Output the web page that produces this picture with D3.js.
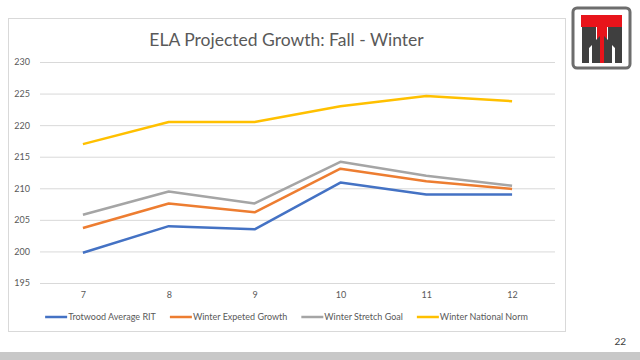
<!DOCTYPE html>
<html>
<head>
<meta charset="utf-8">
<script src="https://cdn.jsdelivr.net/npm/d3@7"></script>
<style>
  body { margin: 0; background: #fff; }
  svg { display: block; font-family: Lato, "Open Sans", sans-serif; }
</style>
</head>
<body>
<svg width="640" height="360"></svg>
<script>
// grade levels on the x axis
const grades = [7, 8, 9, 10, 11, 12];

// series values
const trotwoodAverage = [199.8, 204.0, 203.5, 210.9, 209.0, 209.0];
const winterExpected = [203.7, 207.6, 206.2, 213.1, 211.1, 209.9];
const winterStretch = [205.8, 209.5, 207.6, 214.2, 212.0, 210.4];
const winterNational = [217.0, 220.5, 220.5, 223.0, 224.6, 223.8];

const yTicks = [195, 200, 205, 210, 215, 220, 225, 230];

const seriesNames = ["Trotwood Average RIT", "Winter Expeted Growth", "Winter Stretch Goal", "Winter National Norm"];
const seriesColors = ["#4472C4", "#ED7D31", "#A5A5A5", "#FFC000"];

const series = [trotwoodAverage, winterExpected, winterStretch, winterNational].map((vals, i) => ({
    name: seriesNames[i],
    color: seriesColors[i],
    values: vals.map((v, j) => ({ grade: grades[j], value: v }))
}));

const svg = d3.select("svg");

// chart frame
const box = { left: 8, top: 18, right: 565, bottom: 331 };
svg.append("rect")
    .attr("x", box.left + 0.5)
    .attr("y", box.top + 0.5)
    .attr("width", box.right - box.left)
    .attr("height", box.bottom - box.top)
    .attr("fill", "#fff")
    .attr("stroke", "#d9d9d9");

// title
svg.append("text")
    .attr("x", (box.left + box.right) / 2)
    .attr("y", 46)
    .attr("text-anchor", "middle")
    .attr("font-size", "17.5px")
    .attr("fill", "#595959")
    .text("ELA Projected Growth: Fall - Winter");

// scales
const x = d3.scalePoint()
    .domain(grades)
    .range([40, 555])
    .padding(0.5);

const y = d3.scaleLinear()
    .domain([195, 230])
    .range([283, 62]);

// y axis with gridlines
const yAxis = svg.append("g")
    .attr("transform", "translate(40,0)")
    .call(d3.axisLeft(y).tickValues(yTicks).tickSize(-515).tickPadding(10));
yAxis.select(".domain").remove();
yAxis.selectAll("line").attr("stroke", "#d9d9d9");
yAxis.selectAll("text")
    .attr("fill", "#595959")
    .attr("font-size", "9px")
    .attr("font-family", "Lato, sans-serif");

// x axis labels only
const xAxis = svg.append("g")
    .attr("transform", "translate(0,283)")
    .call(d3.axisBottom(x).tickSize(0).tickPadding(9));
xAxis.select(".domain").remove();
xAxis.selectAll("text")
    .attr("fill", "#595959")
    .attr("font-size", "9px")
    .attr("font-family", "Lato, sans-serif");

// lines
const line = d3.line()
    .x(d => x(d.grade))
    .y(d => y(d.value));

svg.selectAll(".series")
    .data(series)
    .enter()
    .append("path")
    .attr("class", "series")
    .attr("d", d => line(d.values))
    .attr("fill", "none")
    .attr("stroke", d => d.color)
    .attr("stroke-width", 2.5)
    .attr("stroke-linejoin", "round");

// legend, centred under the chart
const legend = svg.append("g");
let lx = 0;
series.forEach(s => {
    const item = legend.append("g").attr("transform", `translate(${lx},0)`);
    item.append("line")
        .attr("x1", 0).attr("x2", 22)
        .attr("y1", 0).attr("y2", 0)
        .attr("stroke", s.color)
        .attr("stroke-width", 2.5);
    const t = item.append("text")
        .attr("x", 23)
        .attr("y", 3.3)
        .attr("font-size", "9px")
        .attr("fill", "#595959")
        .text(s.name);
    lx += 23 + t.node().getComputedTextLength() + 14;
});
legend.attr("transform", `translate(${(box.left + box.right) / 2 - (lx - 14) / 2},317)`);

// logo
const logo = svg.append("g");
logo.append("rect")
    .attr("x", 573).attr("y", 8)
    .attr("width", 57).attr("height", 60)
    .attr("rx", 4)
    .attr("fill", "#fff")
    .attr("stroke", "#6d6d6d")
    .attr("stroke-width", 3);
logo.append("path")
    .attr("d", "M581,15 H622 V27 H607 V63 H597 V27 H581 Z")
    .attr("fill", "#e8141b");
logo.append("path")
    .attr("d", "M582,27 H596 V40 L600,36 V63 H592 V45 L589,48 V63 H582 Z")
    .attr("fill", "#3f3f3f");
logo.append("path")
    .attr("d", "M622,27 H608 V40 L604,36 V63 H612 V45 L615,48 V63 H622 Z")
    .attr("fill", "#3f3f3f");

// slide number and footer bar
svg.append("text")
    .attr("x", 626)
    .attr("y", 345)
    .attr("text-anchor", "end")
    .attr("font-size", "10px")
    .attr("fill", "#404040")
    .text("22");

svg.append("rect")
    .attr("x", 0).attr("y", 352)
    .attr("width", 640).attr("height", 8)
    .attr("fill", "#c8c8c8");
</script>
</body>
</html>
